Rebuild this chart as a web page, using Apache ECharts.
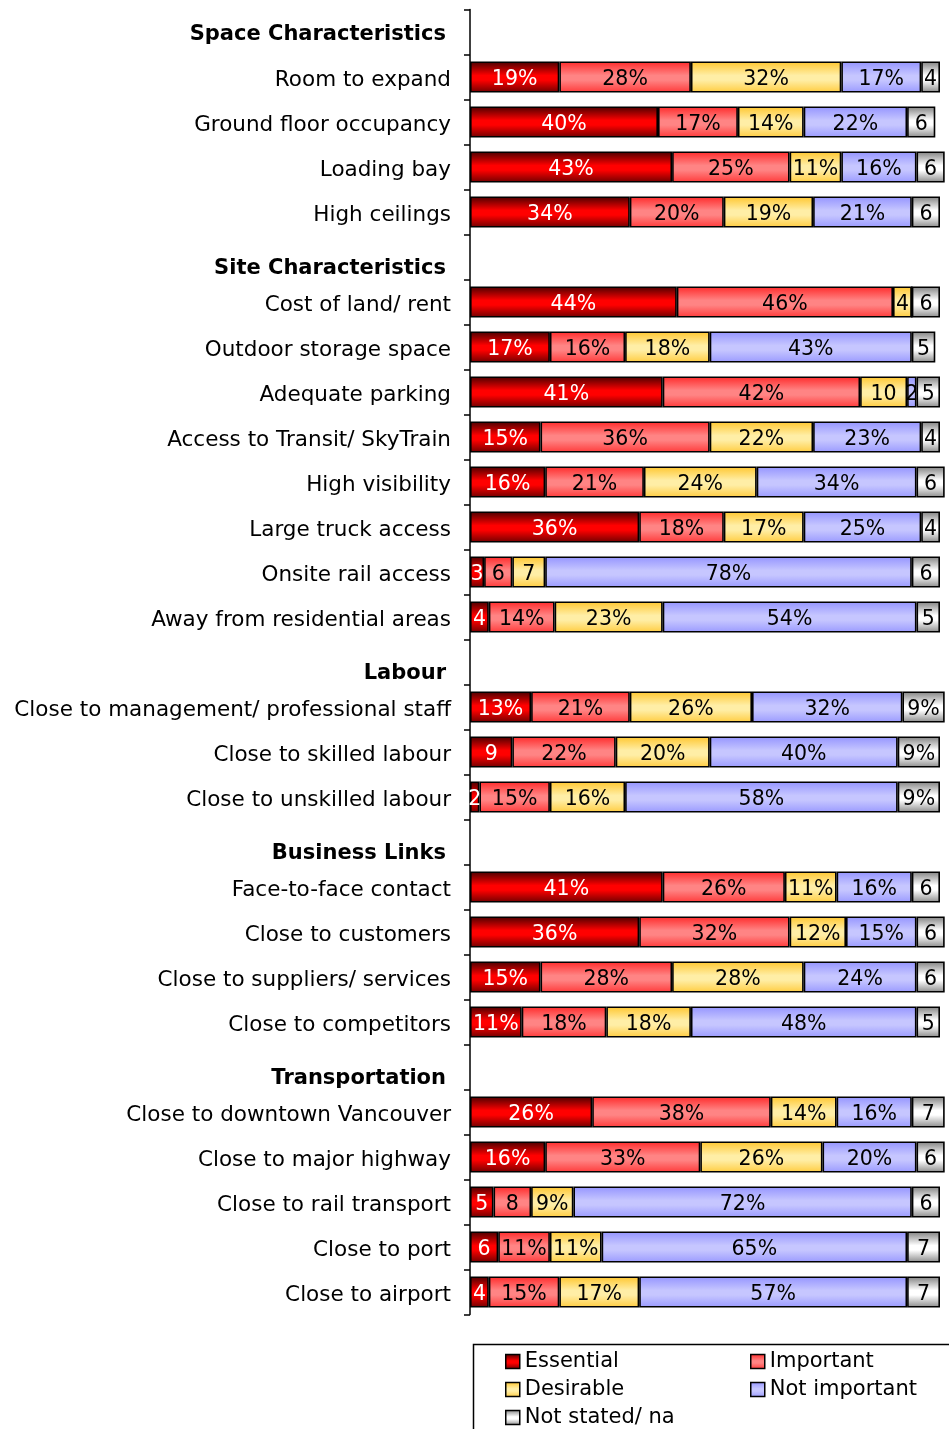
<!DOCTYPE html>
<html>
<head>
<meta charset="utf-8">
<script src="https://cdn.jsdelivr.net/npm/echarts@6/dist/echarts.min.js"></script>
<style>
  html, body { margin: 0; padding: 0; background: #fff; }
  #location_factors { width: 949px; height: 1429px; }
</style>
</head>
<body>
<div id="location_factors"></div>
<script>
const categories = [
  'Space Characteristics',
  'Room to expand', 'Ground floor occupancy', 'Loading bay', 'High ceilings',
  'Site Characteristics',
  'Cost of land/ rent', 'Outdoor storage space', 'Adequate parking', 'Access to Transit/ SkyTrain',
  'High visibility', 'Large truck access', 'Onsite rail access', 'Away from residential areas',
  'Labour',
  'Close to management/ professional staff', 'Close to skilled labour', 'Close to unskilled labour',
  'Business Links',
  'Face-to-face contact', 'Close to customers', 'Close to suppliers/ services', 'Close to competitors',
  'Transportation',
  'Close to downtown Vancouver', 'Close to major highway', 'Close to rail transport', 'Close to port', 'Close to airport'
];
const headers = ['Space Characteristics', 'Site Characteristics', 'Labour', 'Business Links', 'Transportation'];

const seriesNames = ['Essential', 'Important', 'Desirable', 'Not important', 'Not stated/ na'];
const essential    = [null, 19, 40, 43, 34, null, 44, 17, 41, 15, 16, 36, 3, 4, null, 13, 9, 2, null, 41, 36, 15, 11, null, 26, 16, 5, 6, 4];
const important    = [null, 28, 17, 25, 20, null, 46, 16, 42, 36, 21, 18, 6, 14, null, 21, 22, 15, null, 26, 32, 28, 18, null, 38, 33, 8, 11, 15];
const desirable    = [null, 32, 14, 11, 19, null, 4, 18, 10, 22, 24, 17, 7, 23, null, 26, 20, 16, null, 11, 12, 28, 18, null, 14, 26, 9, 11, 17];
const notImportant = [null, 17, 22, 16, 21, null, 0, 43, 2, 23, 34, 25, 78, 54, null, 32, 40, 58, null, 16, 15, 24, 48, null, 16, 20, 72, 65, 57];
const notStated    = [null, 4, 6, 6, 6, null, 6, 5, 5, 4, 6, 4, 6, 5, null, 9, 9, 9, null, 6, 6, 6, 5, null, 7, 6, 6, 7, 7];

// small values are printed without "%", except these cells (series index -> row indices)
const pctForced = { 2: [26], 4: [15, 16, 17] };
const pctDropped = { 2: [8] };

function draw_location_factors() {
  var dom = document.getElementById('location_factors');
  var myChart = echarts.init(dom, null, { renderer: 'canvas' });
  var option;

  const font = 'DejaVu Sans';

  function grad(edgeTop, mid, edgeBottom) {
    return new echarts.graphic.LinearGradient(0, 0, 0, 1, [
      { offset: 0, color: edgeTop },
      { offset: 0.45, color: mid },
      { offset: 0.6, color: mid },
      { offset: 1, color: edgeBottom }
    ]);
  }
  const fills = [
    grad('#4a0000', '#ff0000', '#700000'),
    grad('#ff2a2a', '#ff8484', '#ff3a3a'),
    grad('#ffc62e', '#ffeea6', '#ffcc40'),
    grad('#9494ff', '#c6c6ff', '#9a9aff'),
    grad('#808080', '#ffffff', '#8a8a8a')
  ];
  const labelColors = ['#ffffff', '#000', '#000', '#000', '#000'];
  const values = [essential, important, desirable, notImportant, notStated];

  const series = seriesNames.map(function (name, s) {
    return {
      name: name,
      type: 'bar',
      stack: 'total',
      barWidth: 31,
      clip: false,
      data: values[s],
      itemStyle: {
        color: fills[s],
        borderColor: '#000',
        borderWidth: 1.6
      },
      label: {
        show: true,
        position: 'inside',
        offset: [0, 3],
        color: labelColors[s],
        fontFamily: font,
        fontSize: 20.5,
        formatter: function (p) {
          const v = p.value;
          if (v == null || v === 0) return '';
          let pct = v >= 10;
          if ((pctForced[s] || []).indexOf(p.dataIndex) >= 0) pct = true;
          if ((pctDropped[s] || []).indexOf(p.dataIndex) >= 0) pct = false;
          return pct ? v + '%' : String(v);
        }
      },
      emphasis: { disabled: true }
    };
  });

  const legendCommon = {
    orient: 'vertical',
    top: 1346,
    height: 90,
    itemWidth: 14,
    itemHeight: 14,
    itemGap: 7,
    icon: 'rect',
    itemStyle: { borderColor: '#000', borderWidth: 1.5 },
    textStyle: { fontFamily: font, fontSize: 21, color: '#000', lineHeight: 20 }
  };

  option = {
    backgroundColor: '#fff',
    animation: false,
    grid: { left: 470, top: 9.5, width: 470, height: 1305 },
    xAxis: { type: 'value', min: 0, max: 100, show: false },
    yAxis: {
      type: 'category',
      inverse: true,
      data: categories,
      axisLine: { show: true, lineStyle: { color: '#000', width: 1.5 } },
      axisTick: { show: true, interval: 0, length: 6, lineStyle: { color: '#000', width: 1.5 } },
      axisLabel: {
        interval: 0,
        margin: 19,
        color: '#000',
        fontFamily: font,
        fontSize: 21.5,
        padding: [6, 0, 0, 0],
        formatter: function (v, i) {
          if (headers.indexOf(v) >= 0) {
            return i === 0 ? '{h0|' + v + '}' : '{h|' + v + '}';
          }
          return v;
        },
        rich: {
          h0: { fontFamily: font, fontSize: 21, fontWeight: 'bold', color: '#000', padding: [0, 5, 0, 0] },
          h: { fontFamily: font, fontSize: 21, fontWeight: 'bold', color: '#000', padding: [18, 5, 0, 0] }
        }
      }
    },
    legend: [
      Object.assign({}, legendCommon, { data: ['Essential', 'Desirable', 'Not stated/ na'], left: 500 }),
      Object.assign({}, legendCommon, { data: ['Important', 'Not important'], left: 745 })
    ],
    graphic: [
      {
        type: 'rect',
        left: 471,
        top: 1342,
        shape: { width: 490, height: 100 },
        style: { fill: 'none', stroke: '#000', lineWidth: 1.5 },
        silent: true
      }
    ],
    series: series
  };

  if (option && typeof option === 'object') {
    myChart.setOption(option);
  }
  window.addEventListener('resize', myChart.resize);
}
draw_location_factors();
</script>
</body>
</html>
